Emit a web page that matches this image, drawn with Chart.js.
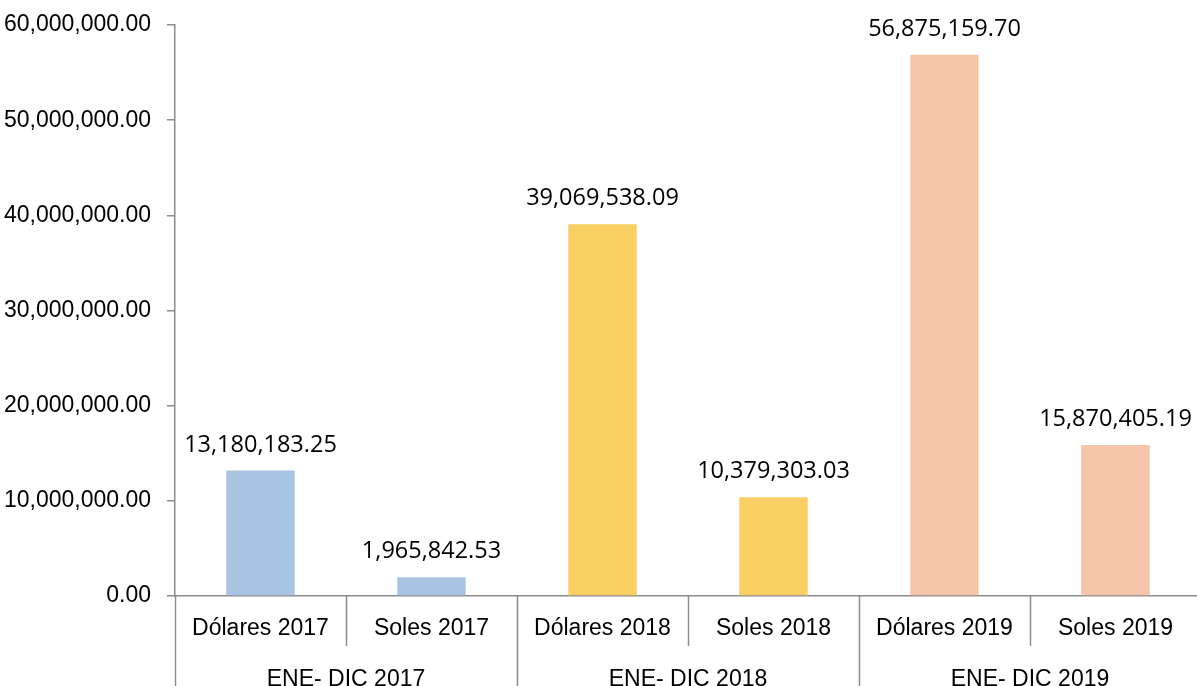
<!DOCTYPE html>
<html lang="es">
<head>
    <meta charset="UTF-8">
    <title>ENE-DIC 2017-2019</title>
    <script src="https://cdn.jsdelivr.net/npm/chart.js"></script>
    <style>
        body {
            margin: 0;
            background: #fff;
            overflow: hidden;
        }
        .chart-container {
            position: relative;
            width: 1201px;
            height: 686px;
        }
    </style>
</head>
<body>
    <div class="chart-container">
        <canvas id="montos"></canvas>
    </div>

    <script>
        // Data
        const categories = ['Dólares 2017', 'Soles 2017', 'Dólares 2018', 'Soles 2018', 'Dólares 2019', 'Soles 2019'];
        const groups = ['ENE- DIC 2017', 'ENE- DIC 2018', 'ENE- DIC 2019'];
        const amounts = [13180183.25, 1965842.53, 39069538.09, 10379303.03, 56875159.70, 15870405.19];
        const barColors = ['#A9C3E3', '#A9C3E3', '#F9CF63', '#F9CF63', '#F5C4A9', '#F5C4A9'];
        const yMax = 60000000;
        const yStep = 10000000;

        const axisGray = '#8C8C8C';
        const narrow = "'Liberation Sans Narrow', 'Arial Narrow', 'Liberation Sans', sans-serif";

        const fmt = v => v.toLocaleString('en-US', { minimumFractionDigits: 2, maximumFractionDigits: 2 });

        // value labels above each bar
        const valueLabels = {
            id: 'valueLabels',
            afterDatasetsDraw(chart) {
                const ctx = chart.ctx;
                const meta = chart.getDatasetMeta(0);
                ctx.save();
                ctx.font = "23.5px 'Open Sans', sans-serif";
                ctx.fillStyle = '#000';
                ctx.textAlign = 'center';
                ctx.textBaseline = 'bottom';
                meta.data.forEach((bar, i) => {
                    ctx.fillText(fmt(amounts[i]), bar.x, bar.y - 14);
                });
                ctx.restore();
            }
        };

        // separators between categories and between groups under the axis
        const separators = {
            id: 'separators',
            afterDraw(chart) {
                const ctx = chart.ctx;
                const x = chart.scales.x;
                const x2 = chart.scales.x2;
                const step = x.width / categories.length;
                const perGroup = categories.length / groups.length;
                ctx.save();
                ctx.strokeStyle = axisGray;
                ctx.lineWidth = 1.5;
                for (let i = 0; i <= categories.length; i++) {
                    const px = Math.round(x.left + step * i) + 0.5;
                    const bottom = (i % perGroup === 0) ? x2.bottom + 10 : x.bottom;
                    ctx.beginPath();
                    ctx.moveTo(px, x.top);
                    ctx.lineTo(px, bottom);
                    ctx.stroke();
                }
                ctx.restore();
            }
        };

        new Chart(document.getElementById('montos'), {
            type: 'bar',
            data: {
                labels: categories,
                datasets: [{
                    data: amounts,
                    backgroundColor: barColors,
                    barPercentage: 0.8,
                    categoryPercentage: 0.5
                }]
            },
            options: {
                responsive: true,
                maintainAspectRatio: false,
                animation: false,
                layout: { padding: { top: 25, right: 0, left: 0, bottom: 0 } },
                plugins: {
                    legend: { display: false },
                    tooltip: { enabled: false }
                },
                scales: {
                    y: {
                        min: 0,
                        max: yMax,
                        ticks: {
                            stepSize: yStep,
                            color: '#000',
                            font: { family: narrow, size: 23 },
                            padding: 16,
                            callback: v => fmt(v)
                        },
                        grid: {
                            drawOnChartArea: false,
                            drawTicks: true,
                            tickLength: 8,
                            color: axisGray,
                            lineWidth: 1.5
                        },
                        border: { color: axisGray, width: 1.5 },
                        afterFit: s => { s.width = 175; s.paddingTop = 0; s.paddingBottom = 0; }
                    },
                    x: {
                        ticks: {
                            color: '#000',
                            font: { family: narrow, size: 23 },
                            padding: 19,
                            maxRotation: 0
                        },
                        grid: { display: false, drawTicks: false },
                        border: { color: axisGray, width: 1.5 },
                        afterFit: s => { s.height = 50; }
                    },
                    x2: {
                        type: 'category',
                        position: 'bottom',
                        labels: groups,
                        offset: true,
                        ticks: {
                            color: '#000',
                            font: { family: narrow, size: 23 },
                            padding: 20,
                            maxRotation: 0
                        },
                        grid: { display: false, drawTicks: false },
                        border: { display: false },
                        afterFit: s => { s.height = 40; }
                    }
                }
            },
            plugins: [valueLabels, separators]
        });
    </script>
</body>
</html>
